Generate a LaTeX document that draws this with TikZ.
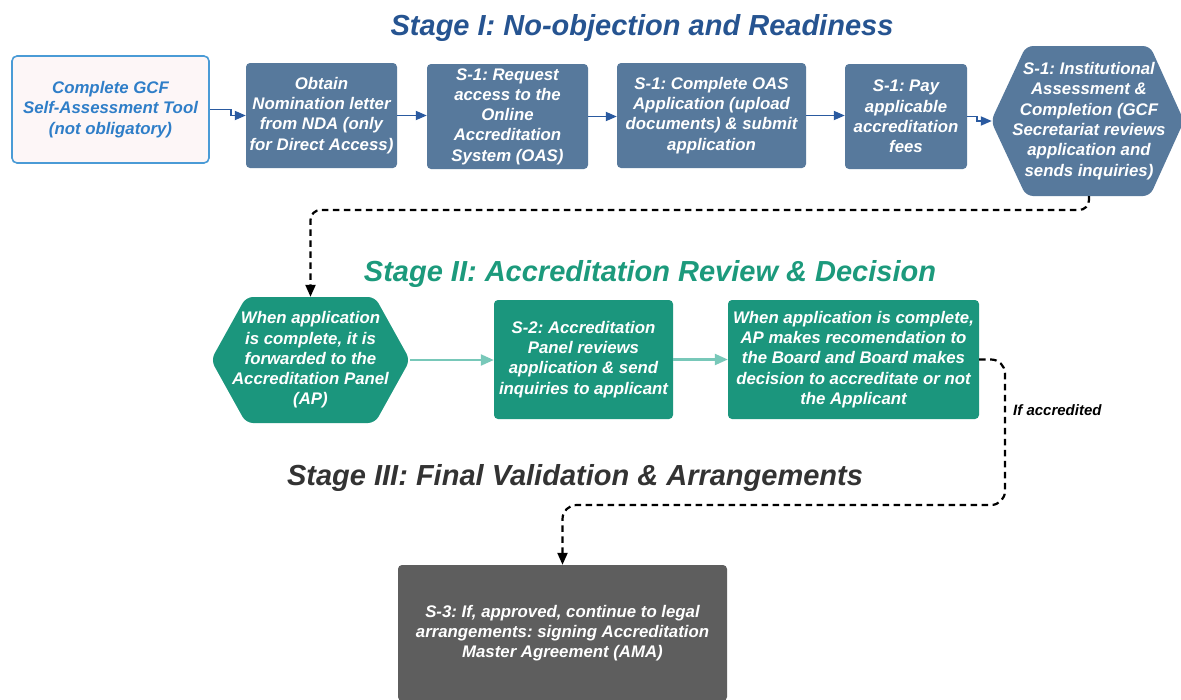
\documentclass[tikz,border=0pt]{standalone}
\usepackage{fontspec}
\setmainfont{Liberation Sans}
\usetikzlibrary{arrows.meta}
\frenchspacing
\definecolor{titleblue}{RGB}{38,84,145}
\definecolor{boxblue}{RGB}{87,121,156}
\definecolor{arrowblue}{RGB}{42,90,160}
\definecolor{palepink}{RGB}{253,246,247}
\definecolor{lightblue}{RGB}{74,155,214}
\definecolor{textblue}{RGB}{47,126,200}
\definecolor{titlegreen}{RGB}{28,154,124}
\definecolor{boxgreen}{RGB}{27,150,125}
\definecolor{arrowgreen}{RGB}{120,200,185}
\definecolor{boxgray}{RGB}{94,94,94}
\definecolor{titlegray}{RGB}{51,51,51}
\begin{document}
\begin{tikzpicture}[x=1pt,y=-1pt,
  txt/.style={font=\fontsize{16.8}{20.3}\selectfont\bfseries\itshape, align=center, text=white, inner sep=0pt},
  boxb/.style={txt, fill=boxblue, rounded corners=4pt},
  boxg/.style={txt, fill=boxgreen, rounded corners=4pt},
  boxk/.style={txt, fill=boxgray, rounded corners=4pt},
  sz/.style 2 args={minimum width=#1pt, minimum height=#2pt},
  stagetitle/.style={font=\fontsize{29}{34}\selectfont\bfseries\itshape, anchor=base, inner sep=0pt},
  barrow/.style={draw=arrowblue, line width=1.8pt, -{Triangle[length=11pt,width=9pt]}},
  garrow/.style={draw=arrowgreen, line width=2.2pt, -{Triangle[length=13pt,width=11pt]}},
  dasharrow/.style={draw=black, line width=2.2pt, dash pattern=on 6.5pt off 4.5pt, -{Triangle[length=12pt,width=10pt]}}
]
\useasboundingbox (0,0) rectangle (1181,699);
\fill[white] (0,0) rectangle (1181,699);

% titles
\node[stagetitle, text=titleblue] (t1) at (642,35) {Stage I: No-objection and Readiness};
\node[stagetitle, text=titlegreen] (t2) at (650,281) {Stage II: Accreditation Review \& Decision};
\node[stagetitle, text=titlegray] (t3) at (575,485) {Stage III: Final Validation \& Arrangements};

% hexagon shapes
\fill[boxblue, rounded corners=7pt] (991,121) -- (1026,46) -- (1150,46) -- (1184,121) -- (1150,196) -- (1026,196) -- cycle;
\fill[boxgreen, rounded corners=7pt] (211,360) -- (246,297) -- (375,297) -- (410,360) -- (375,423) -- (246,423) -- cycle;

% stage I
\node[txt, text=textblue, fill=palepink, draw=lightblue, line width=1.6pt, rounded corners=5pt, sz={197}{107}] (box1) at (110.5,109.5) {Complete GCF\\Self-Assessment Tool\\(not obligatory)};
\node[boxb, sz={151}{105}] (box2) at (321.5,115.5) {Obtain\\Nomination letter\\from NDA (only\\for Direct Access)};
\node[boxb, sz={161}{105}] (box3) at (507.5,116.5) {S-1: Request\\access to the\\Online\\Accreditation\\System (OAS)};
\node[boxb, sz={189}{105}] (box4) at (711.5,115.5) {S-1: Complete OAS\\Application (upload\\documents) \& submit\\application};
\node[boxb, sz={122}{105}] (box5) at (906,116.5) {S-1: Pay\\applicable\\accreditation\\fees};
\node[txt, sz={190}{150}] (hex1) at (1089,121) {S-1: Institutional\\Assessment \&\\Completion (GCF\\Secretariat reviews\\application and\\sends inquiries)};

% stage II
\node[txt, sz={199}{126}] (hex2) at (310.5,360) {When application\\is complete, it is\\forwarded to the\\Accreditation Panel\\(AP)};
\node[boxg, sz={179}{119}] (box7) at (583.5,359.5) {S-2: Accreditation\\Panel reviews\\application \& send\\inquiries to applicant};
\node[boxg, sz={251}{119}] (box8) at (853.5,359.5) {When application is complete,\\AP makes recomendation to\\the Board and Board makes\\decision to accreditate or not\\the Applicant};

% stage III
\node[boxk, sz={329}{136}] (box10) at (562.5,633) {S-3: If, approved, continue to legal\\arrangements: signing Accreditation\\Master Agreement (AMA)};

% connectors
\draw[barrow] (box1.east) -- ++(21,0) |- (box2.west);
\draw[barrow] (box2.east) -- (box2.east -| box3.west);
\draw[barrow] (box3.east) -- (box3.east -| box4.west);
\draw[barrow] (box4.east) -- (box4.east -| box5.west);
\draw[barrow] (box5.east) -- ++(10,0) |- ([xshift=-2pt]hex1.west);
\draw[dasharrow, rounded corners=10pt] (hex1.south) |- (310.5,210) -- (hex2.north);
\draw[garrow] (hex2.east) -- (hex2.east -| box7.west);
\draw[garrow] (box7.east) -- (box7.east -| box8.west);
\draw[dasharrow, rounded corners=14pt] (box8.east) -| (1005,505) -| (box10.north);
\node[anchor=west, inner sep=0pt, font=\fontsize{15}{18}\selectfont\bfseries\itshape] (lab) at (1013,410) {If accredited};
\end{tikzpicture}
\end{document}
